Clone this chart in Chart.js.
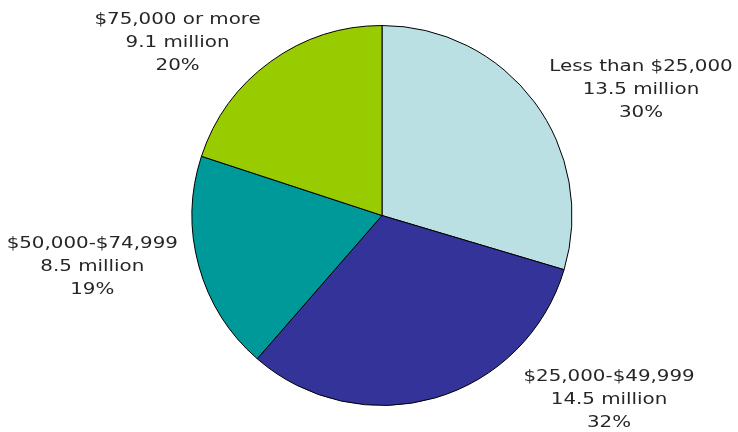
<!DOCTYPE html>
<html>
<head>
<meta charset="utf-8">
<script src="https://cdn.jsdelivr.net/npm/chart.js@4/dist/chart.umd.min.js"></script>
<style>
  html, body { margin: 0; padding: 0; background: #fff; }
  #wrap { width: 738px; height: 432px; }
</style>
</head>
<body>
<div id="wrap"><canvas id="incomeChart" width="738" height="432"></canvas></div>
<script>
// household income groups, millions of households
const incomeGroups = [
  "Less than $25,000",
  "$25,000-$49,999",
  "$50,000-$74,999",
  "$75,000 or more"
];
const households = [13.5, 14.5, 8.5, 9.1];
const sliceColors = ["#bbe0e3", "#333399", "#009999", "#99cc00"];

// where each label block sits, relative to the pie centre, in radii
const labelSpots = [
  [1.363, -0.66],
  [1.195, 0.97],
  [-1.525, 0.268],
  [-1.076, -0.908]
];

const total = households.reduce((a, b) => a + b, 0);

const pieLabels = {
  id: "pieLabels",
  afterDatasetsDraw(chart) {
    const ctx = chart.ctx;
    const arcs = chart.getDatasetMeta(0).data;
    ctx.save();
    ctx.font = "16px 'DejaVu Sans'";
    ctx.fillStyle = "#262626";
    ctx.textAlign = "center";
    ctx.textBaseline = "middle";
    arcs.forEach((arc, i) => {
      const r = arc.outerRadius;
      const cx = arc.x + labelSpots[i][0] * r;
      const cy = arc.y + labelSpots[i][1] * r;
      const pct = Math.round(households[i] / total * 100);
      const lines = [
        incomeGroups[i],
        households[i].toFixed(1) + " million",
        pct + "%"
      ];
      lines.forEach((txt, j) => {
        ctx.save();
        ctx.translate(cx, cy + (j - 1) * 23);
        ctx.scale(1.24, 1);
        ctx.fillText(txt, 0, 0);
        ctx.restore();
      });
    });
    ctx.restore();
  }
};

new Chart(
document.getElementById("incomeChart"),
{
type: "pie",

data: {
labels: incomeGroups,
datasets: [{
data: households,
backgroundColor: sliceColors,
borderColor: "#000",
borderWidth: 1
}]
},

options: {
responsive: false,
animation: false,
layout: {
padding: { top: 25, bottom: 26, left: 26, right: 0 }
},
plugins: {
legend: { display: false },
tooltip: { enabled: false }
}
},

plugins: [pieLabels]
});
</script>
</body>
</html>
